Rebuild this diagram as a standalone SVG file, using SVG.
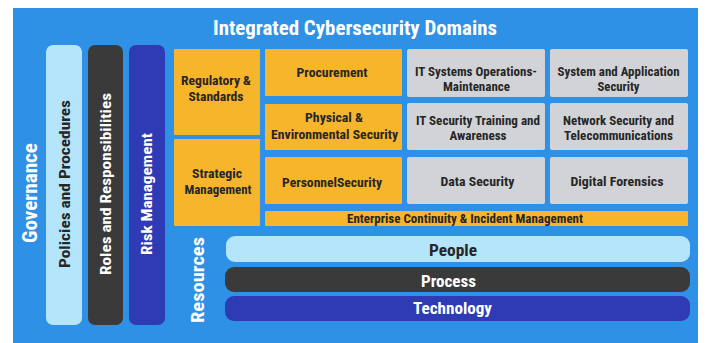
<svg xmlns="http://www.w3.org/2000/svg" width="707" height="343" viewBox="0 0 707 343">
<style>
text{font-family:"Roboto Condensed",Roboto,"Liberation Sans",sans-serif;font-weight:700}
.t{fill:#ffffff}
.d{fill:#262626}
.bx{font-size:13px;text-anchor:middle}
.v{text-anchor:middle;dominant-baseline:central}
.org{fill:#F6B52B}
.gry{fill:#D2D3D7}
</style>
<rect x="0" y="0" width="707" height="343" fill="#ffffff"/>
<g id="background">
<rect x="13" y="8" width="685" height="340" fill="#2F91E5"/>
<text class="t" x="355" y="34.5" font-size="20.5" text-anchor="middle" textLength="284" lengthAdjust="spacingAndGlyphs">Integrated Cybersecurity Domains</text>
</g>
<g id="governance">
<text class="t v" transform="translate(30,193) rotate(-90)" font-size="20" textLength="100" lengthAdjust="spacingAndGlyphs">Governance</text>
</g>
<g id="policies">
<rect x="46" y="45" width="36" height="280" rx="7" fill="#B5E5FA"/>
<text class="d v" transform="translate(64.5,184) rotate(-90)" font-size="15.5" textLength="168" lengthAdjust="spacingAndGlyphs">Policies and Procedures</text>
</g>
<g id="roles">
<rect x="88" y="45" width="35" height="280" rx="7" fill="#3A3A3A"/>
<text class="t v" transform="translate(105.5,184) rotate(-90)" font-size="15.5" textLength="182" lengthAdjust="spacingAndGlyphs">Roles and Responsibilities</text>
</g>
<g id="risk">
<rect x="129" y="45" width="36" height="280" rx="7" fill="#2E3BB5"/>
<text class="t v" transform="translate(147,194) rotate(-90)" font-size="15.5" textLength="122" lengthAdjust="spacingAndGlyphs">Risk Management</text>
</g>
<g id="regulatory">
<rect class="org" x="174" y="49" width="86" height="86" rx="1"/>
<text class="d bx" x="216" y="85" textLength="70" lengthAdjust="spacingAndGlyphs">Regulatory &amp;</text>
<text class="d bx" x="216" y="101" textLength="55" lengthAdjust="spacingAndGlyphs">Standards</text>
</g>
<g id="strategic">
<rect class="org" x="174" y="139" width="86" height="87" rx="1"/>
<text class="d bx" x="217" y="177.5" textLength="50" lengthAdjust="spacingAndGlyphs">Strategic</text>
<text class="d bx" x="218" y="193.5" textLength="67" lengthAdjust="spacingAndGlyphs">Management</text>
</g>
<g id="procurement">
<rect class="org" x="265" y="49" width="137" height="47" rx="1"/>
<text class="d bx" x="332" y="76.5" textLength="71" lengthAdjust="spacingAndGlyphs">Procurement</text>
</g>
<g id="physical">
<rect class="org" x="265" y="104" width="137" height="46" rx="1"/>
<text class="d bx" x="334" y="121.5" textLength="58" lengthAdjust="spacingAndGlyphs">Physical &amp;</text>
<text class="d bx" x="334.5" y="138.5" textLength="127" lengthAdjust="spacingAndGlyphs">Environmental Security</text>
</g>
<g id="personnel">
<rect class="org" x="265" y="157" width="137" height="47" rx="1"/>
<text class="d bx" x="332" y="186.5" textLength="100" lengthAdjust="spacingAndGlyphs">PersonnelSecurity</text>
</g>
<g id="itsystems">
<rect class="gry" x="407" y="49" width="138" height="48" rx="2"/>
<text class="d bx" x="476" y="76" textLength="122" lengthAdjust="spacingAndGlyphs">IT Systems Operations-</text>
<text class="d bx" x="476.5" y="90.5" textLength="67" lengthAdjust="spacingAndGlyphs">Maintenance</text>
</g>
<g id="sysapp">
<rect class="gry" x="550" y="49" width="138" height="48" rx="2"/>
<text class="d bx" x="618.5" y="76" textLength="122" lengthAdjust="spacingAndGlyphs">System and Application</text>
<text class="d bx" x="618.5" y="90.5" textLength="42" lengthAdjust="spacingAndGlyphs">Security</text>
</g>
<g id="ittraining">
<rect class="gry" x="407" y="103" width="138" height="47" rx="2"/>
<text class="d bx" x="478" y="125" textLength="124" lengthAdjust="spacingAndGlyphs">IT Security Training and</text>
<text class="d bx" x="478" y="140" textLength="57" lengthAdjust="spacingAndGlyphs">Awareness</text>
</g>
<g id="network">
<rect class="gry" x="550" y="103" width="138" height="47" rx="2"/>
<text class="d bx" x="618.5" y="125" textLength="111" lengthAdjust="spacingAndGlyphs">Network Security and</text>
<text class="d bx" x="618.5" y="140" textLength="109" lengthAdjust="spacingAndGlyphs">Telecommunications</text>
</g>
<g id="datasecurity">
<rect class="gry" x="407" y="157" width="138" height="47" rx="2"/>
<text class="d bx" x="477.5" y="186" textLength="74" lengthAdjust="spacingAndGlyphs">Data Security</text>
</g>
<g id="forensics">
<rect class="gry" x="550" y="157" width="138" height="47" rx="2"/>
<text class="d bx" x="617" y="186" textLength="93" lengthAdjust="spacingAndGlyphs">Digital Forensics</text>
</g>
<g id="enterprise">
<rect class="org" x="265" y="211" width="423" height="15" rx="1"/>
<text class="d" x="465" y="223" font-size="12" text-anchor="middle" textLength="236" lengthAdjust="spacingAndGlyphs">Enterprise Continuity &amp; Incident Management</text>
</g>
<g id="resources">
<text class="t v" transform="translate(197.5,280) rotate(-90)" font-size="19" textLength="86" lengthAdjust="spacingAndGlyphs">Resources</text>
</g>
<g id="people">
<rect x="226" y="236" width="464" height="26" rx="9" fill="#B5E5FA"/>
<text class="d" x="453" y="255.5" font-size="16" text-anchor="middle" textLength="48" lengthAdjust="spacingAndGlyphs">People</text>
</g>
<g id="process">
<rect x="225" y="267" width="465" height="25" rx="9" fill="#3A3A3A"/>
<text class="t" x="448.5" y="286.5" font-size="16" text-anchor="middle" textLength="55" lengthAdjust="spacingAndGlyphs">Process</text>
</g>
<g id="technology">
<rect x="225" y="296" width="465" height="25" rx="9" fill="#2E3BB5"/>
<text class="t" x="452.5" y="313.5" font-size="16" text-anchor="middle" textLength="79" lengthAdjust="spacingAndGlyphs">Technology</text>
</g>
<g id="connectors"></g>
</svg>
